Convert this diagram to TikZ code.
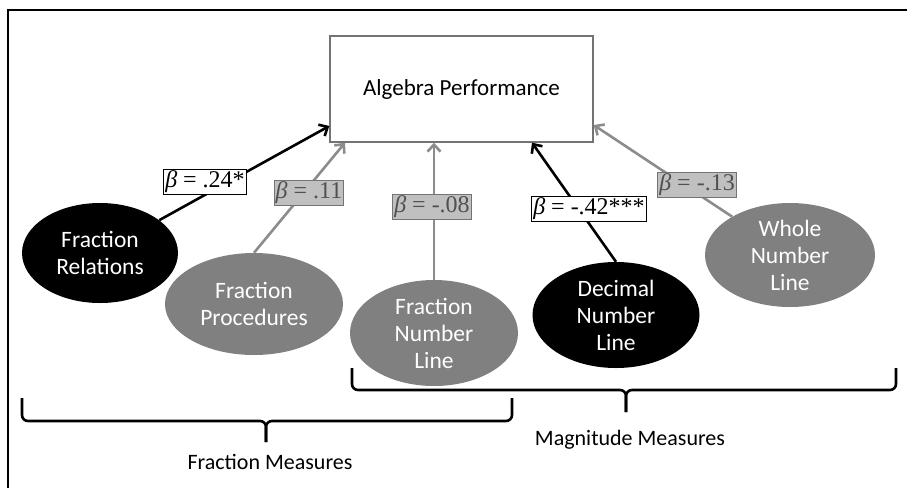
\documentclass[tikz,border=0pt]{standalone}
\usepackage{fontspec}
\setmainfont{Carlito}
\newfontfamily\tms{Liberation Serif}
\usetikzlibrary{shapes.geometric,arrows.meta}
\definecolor{blobgrey}{RGB}{128,128,128}
\definecolor{arrgrey}{RGB}{140,140,140}
\definecolor{labgrey}{RGB}{192,192,192}
\definecolor{labtext}{RGB}{80,80,80}
\definecolor{boxgrey}{RGB}{115,115,115}

\tikzset{
  blob/.style={ellipse, inner sep=0pt, align=center, text=white,
    font=\fontsize{23.5}{27}\selectfont},
  sigarr/.style={-{Straight Barb[length=7pt,width=13pt]}, line width=2.6pt, black},
  nsarr/.style={-{Straight Barb[length=7pt,width=13pt]}, line width=2.6pt, arrgrey},
  beta/.style={inner sep=1.5pt, line width=1pt, font=\tms\fontsize{24}{24}\selectfont},
  siglab/.style={beta, draw=black, fill=white},
  nslab/.style={beta, draw=boxgrey, fill=labgrey, text=labtext},
  brace/.style={line width=2.6pt, rounded corners=6pt},
  group/.style={font=\fontsize{22}{22}\selectfont}
}

\begin{document}
\begin{tikzpicture}[x=1pt, y=-1pt]
\useasboundingbox (0,0) rectangle (907,488);
%\draw[very thin,color=gray] (0,0) grid[step=50] (907,488);
\draw[line width=2.8pt] (8,488) -- (8,10) -- (907,10);

\node[draw=boxgrey, line width=1.4pt, minimum width=263pt, minimum height=106pt,
  font=\fontsize{23}{23}\selectfont] (alg) at (461.5,89) {Algebra Performance};

% predictors
\node[blob, fill=black, minimum width=156pt, minimum height=100pt] (fr) at (100,253) {Fraction\\Relations};
\node[blob, fill=blobgrey, minimum width=178pt, minimum height=102pt] (fp) at (254,304) {Fraction\\Procedures};
\node[blob, fill=blobgrey, minimum width=168pt, minimum height=106pt] (fnl) at (434,333) {Fraction\\Number\\Line};
\node[blob, fill=black, minimum width=167pt, minimum height=106pt] (dnl) at (616,315) {Decimal\\Number\\Line};
\node[blob, fill=blobgrey, minimum width=170pt, minimum height=104pt] (wnl) at (790,255) {Whole\\Number\\Line};

% arrow ends on the box
\coordinate (tfr) at (alg.west |- 0,126);
\coordinate (tfp) at (345,0 |- alg.south);
\coordinate (tdnl) at (532,0 |- alg.south);
\coordinate (twnl) at (alg.east |- 0,125);

\draw[sigarr] (fr) -- (tfr);
\draw[nsarr] (fp.north) -- (tfp);
\draw[nsarr] (fnl.north) -- (fnl.north |- alg.south);
\draw[sigarr] (dnl.north) -- (tdnl);
\draw[nsarr] (wnl) -- (twnl);

\node[siglab] (bfr) at (205,182) {{\itshape β} = .24*};
\node[nslab] (bfp) at (309,193) {{\itshape β} = .11};
\node[nslab] (bfnl) at (432,207) {{\itshape β} = -.08};
\node[siglab] (bdnl) at (589,209) {{\itshape β} = -.42***};
\node[nslab] (bwnl) at (697,185) {{\itshape β} = -.13};

% braces
\draw[brace] (22,398) -- (22,421) -- (266,421) -- (266,442);
\draw[brace] (266,442) -- (266,421) -- (512,421) -- (512,398);
\node[group] (fm) at (270,462) {Fraction Measures};

\draw[brace] (352,368) -- (352,390) -- (626,390) -- (626,412);
\draw[brace] (626,412) -- (626,390) -- (896,390) -- (896,368);
\node[group] (mm) at (630,440) {Magnitude Measures};
\end{tikzpicture}
\end{document}
